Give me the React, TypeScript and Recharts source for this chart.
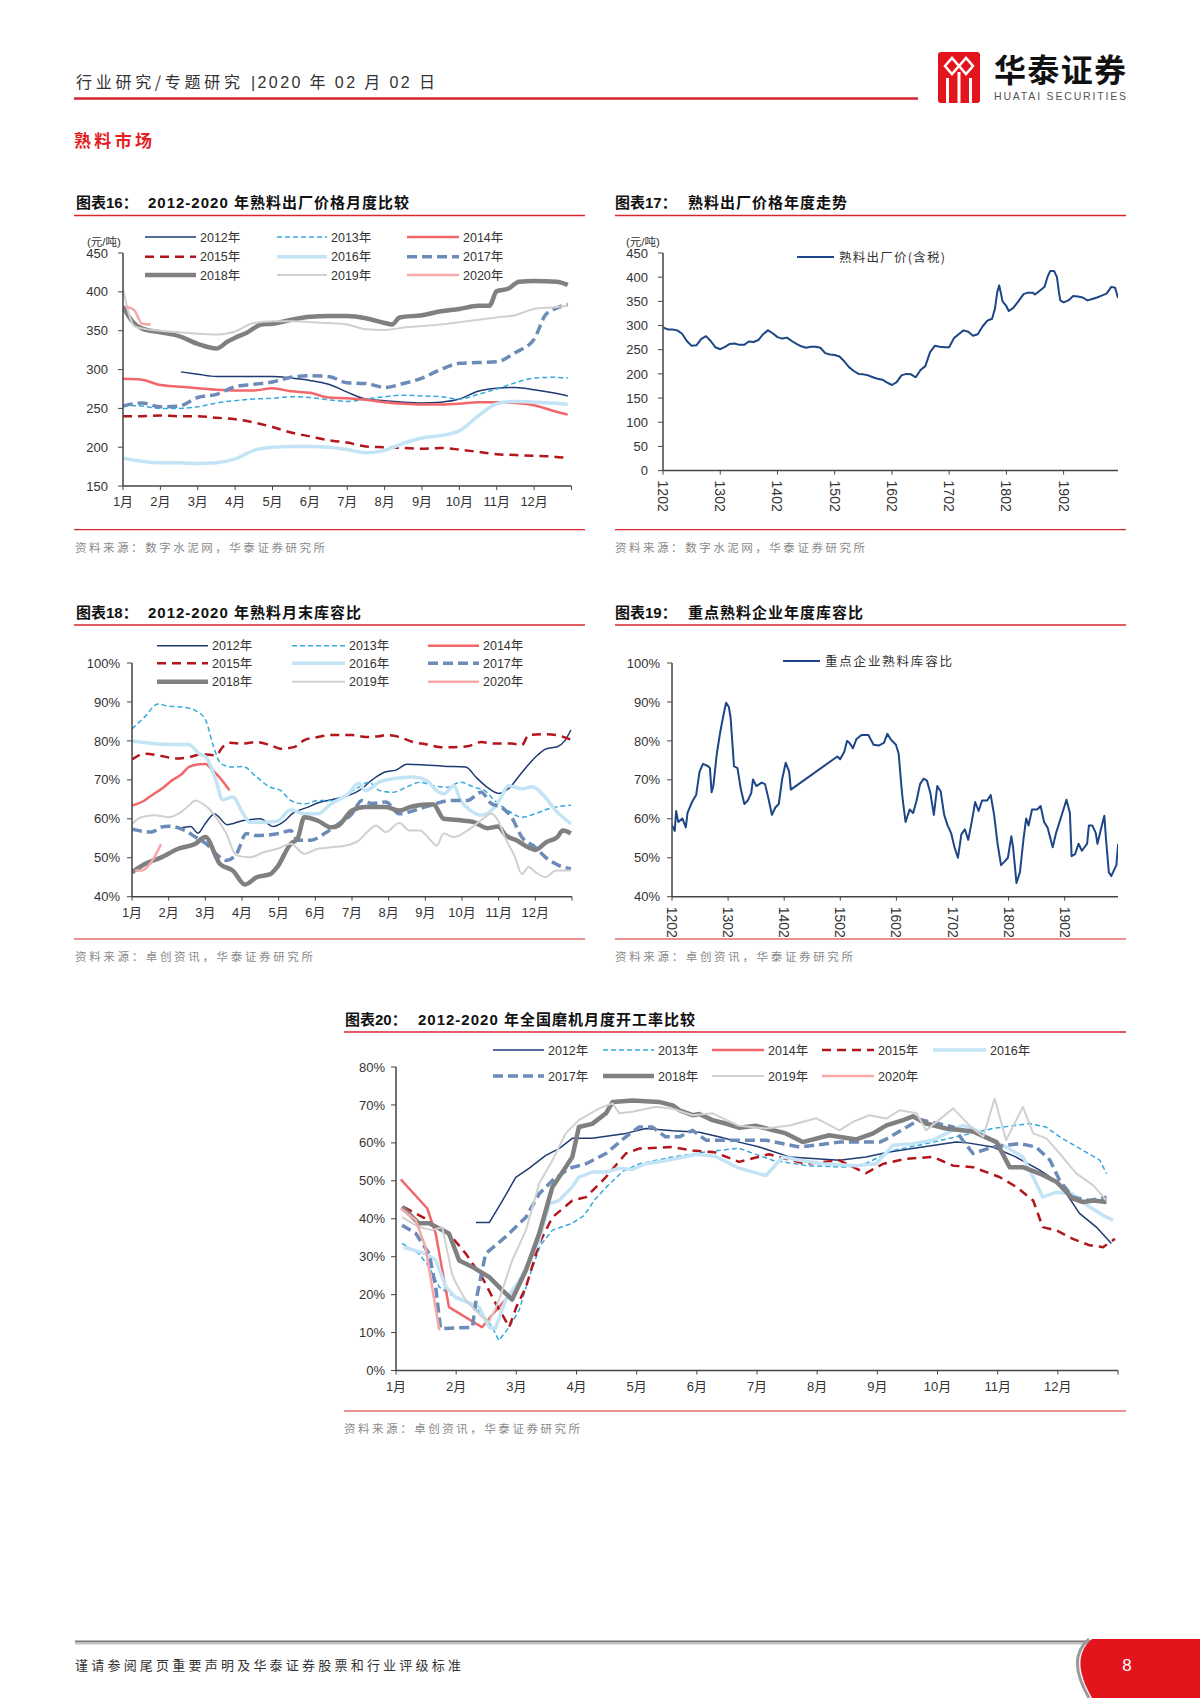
import React from 'react'
import { LineChart, Line, XAxis, YAxis } from 'recharts'

type Pt = [number, number]

const MONTHS = ['1月', '2月', '3月', '4月', '5月', '6月', '7月', '8月', '9月', '10月', '11月', '12月']
const YEAR_TICKS = ['1202', '1302', '1402', '1502', '1602', '1702', '1802', '1902']
const SERIES_NAMES = ['2012年', '2013年', '2014年', '2015年', '2016年', '2017年', '2018年', '2019年', '2020年']
const PRICE_TICKS = [150, 200, 250, 300, 350, 400, 450]
const TREND_PRICE_TICKS = [0, 50, 100, 150, 200, 250, 300, 350, 400, 450]
const INV_TICKS = [40, 50, 60, 70, 80, 90, 100]
const KILN_TICKS = [0, 10, 20, 30, 40, 50, 60, 70, 80]

// 图表16 熟料出厂价格 (元/吨), x = 月份位置 (0 = 1月初)
const price2012: Pt[] = [[1.55, 297], [2, 294], [2.5, 291], [3, 291], [3.5, 291], [4, 291], [4.5, 289], [5, 286], [5.5, 281], [6, 271], [6.5, 262], [7, 260], [7.5, 258], [8, 257], [8.5, 258], [9, 262], [9.5, 272], [10, 276], [10.5, 277], [11, 274], [11.5, 270], [11.9, 266]]
const price2013: Pt[] = [[0, 254], [0.5, 253], [1, 250], [1.5, 250], [2, 252], [2.5, 257], [3, 260], [3.5, 262], [4, 263], [4.5, 265], [5, 264], [5.5, 261], [6, 259], [6.5, 262], [7, 265], [7.5, 267], [8, 266], [8.5, 265], [9, 262], [9.5, 268], [10, 275], [10.5, 283], [11, 289], [11.5, 290], [11.9, 289]]
const price2014: Pt[] = [[0, 288], [0.5, 287], [1, 280], [1.5, 278], [2, 276], [2.5, 274], [3, 273], [3.5, 273], [4, 276], [4.5, 272], [5, 270], [5.5, 264], [6, 263], [6.5, 261], [7, 258], [7.5, 256], [8, 255], [8.5, 255], [9, 256], [9.5, 258], [10, 258], [10.5, 257], [11, 254], [11.5, 247], [11.9, 242]]
const price2015: Pt[] = [[0, 240], [0.5, 240], [1, 241], [1.5, 240], [2, 240], [2.5, 238], [3, 236], [3.5, 232], [4, 226], [4.5, 219], [5, 214], [5.5, 209], [6, 206], [6.5, 201], [7, 200], [7.5, 199], [8, 198], [8.5, 199], [9, 197], [9.5, 194], [10, 191], [10.5, 190], [11, 189], [11.5, 188], [11.9, 186]]
const price2016: Pt[] = [[0, 186], [0.5, 182], [1, 180], [1.5, 180], [2, 179], [2.5, 180], [3, 185], [3.5, 196], [4, 200], [4.5, 201], [5, 201], [5.5, 200], [6, 197], [6.5, 193], [7, 196], [7.5, 205], [8, 212], [8.5, 215], [9, 221], [9.5, 240], [10, 256], [10.5, 259], [11, 258], [11.5, 257], [11.9, 255]]
const price2017: Pt[] = [[0, 253], [0.5, 257], [1, 252], [1.5, 253], [2, 264], [2.5, 268], [3, 278], [3.5, 281], [4, 284], [4.5, 290], [5, 292], [5.5, 291], [6, 283], [6.5, 282], [7, 277], [7.5, 282], [8, 289], [8.5, 300], [9, 308], [9.5, 309], [10, 310], [10.5, 322], [11, 339], [11.3, 370], [11.6, 379], [11.9, 384]]
const price2018: Pt[] = [[0, 381], [0.25, 362], [0.5, 353], [1, 348], [1.5, 343], [2, 333], [2.5, 327], [2.8, 336], [3, 341], [3.3, 347], [3.7, 358], [4, 359], [4.5, 364], [5, 368], [5.5, 369], [6, 369], [6.5, 366], [7, 360], [7.2, 358], [7.4, 367], [8, 370], [8.5, 375], [9, 378], [9.5, 382], [9.8, 382], [10, 401], [10.3, 404], [10.6, 413], [11, 414], [11.6, 413], [11.9, 409]]
const price2019: Pt[] = [[0, 404], [0.3, 356], [0.5, 353], [1, 350], [1.5, 348], [2, 346], [2.5, 345], [3, 349], [3.5, 360], [4, 362], [4.5, 362], [5, 361], [5.5, 360], [6, 358], [6.5, 352], [7, 351], [7.5, 354], [8, 356], [8.5, 358], [9, 361], [9.5, 364], [10, 367], [10.5, 370], [11, 378], [11.5, 380], [11.9, 382]]
const price2020: Pt[] = [[0.06, 381], [0.29, 377], [0.51, 359], [0.74, 358]]

// 图表17 熟料出厂价(含税), x = 自2012年2月起的月数
const trendPrice: Pt[] = [[0, 296], [1, 292], [2, 292], [3, 290], [4, 283], [5, 268], [6, 258], [7, 259], [8, 272], [9, 278], [10, 268], [11, 255], [12, 251], [13, 256], [14, 262], [15, 263], [16, 260], [17, 260], [18, 267], [19, 266], [20, 270], [21, 282], [22, 290], [23, 284], [24, 276], [25, 273], [26, 275], [27, 268], [28, 262], [29, 257], [30, 254], [31, 256], [32, 256], [33, 254], [34, 243], [35, 240], [36, 239], [37, 236], [38, 226], [39, 214], [40, 206], [41, 200], [42, 199], [43, 197], [44, 193], [45, 190], [46, 188], [47, 182], [48, 177], [49, 183], [50, 197], [51, 200], [52, 199], [53, 193], [54, 208], [55, 216], [56, 245], [57, 258], [58, 256], [59, 255], [60, 255], [61, 274], [62, 282], [63, 290], [64, 287], [65, 279], [66, 282], [67, 298], [68, 310], [69, 314], [69.6, 335], [70.1, 370], [70.5, 383], [71.2, 350], [72, 340], [72.5, 330], [73.4, 336], [74.5, 350], [75.6, 365], [76.5, 368], [77.5, 368], [78, 364], [79, 372], [80, 380], [80.6, 400], [81.2, 413], [82, 413], [82.6, 400], [83, 370], [83.3, 352], [84, 348], [85, 352], [86, 361], [87, 360], [88, 358], [89, 352], [90, 355], [91, 358], [92, 362], [93, 366], [94, 380], [94.8, 378], [95.4, 357]]

// 图表18 熟料月末库容比 (%)
const inv2012: Pt[] = [[1.3, 57.5], [1.6, 58], [1.8, 56.3], [2, 58.8], [2.25, 61.2], [2.6, 58.5], [3, 59.5], [3.5, 60], [3.85, 58], [4.1, 59], [4.4, 61.5], [4.8, 63], [5.1, 64.2], [5.5, 65], [5.9, 66], [6.2, 67.3], [6.55, 70], [6.9, 72], [7.2, 72.5], [7.5, 74], [8, 73.8], [8.5, 73.5], [9.1, 73.3], [9.4, 70.5], [9.7, 68], [10, 66.5], [10.3, 68], [10.6, 71.5], [11, 75.8], [11.3, 78], [11.6, 78.5], [11.8, 80], [11.97, 82.8]]
const inv2013: Pt[] = [[0, 83.1], [0.34, 86.1], [0.71, 89.5], [0.99, 88.9], [1.36, 88.7], [1.73, 87.8], [2.01, 85.3], [2.2, 79.3], [2.43, 74.1], [2.75, 73.3], [3.03, 73.4], [3.4, 70.7], [3.77, 68.1], [4.05, 67.3], [4.33, 64.7], [4.7, 63.8], [5.07, 64.7], [5.44, 64.7], [5.81, 66], [6.18, 68.1], [6.46, 69.4], [6.74, 67.3], [7.11, 66.8], [7.48, 68.1], [7.85, 69.4], [8.22, 68.5], [8.59, 68.1], [8.96, 69.4], [9.33, 68.1], [9.61, 67.3], [9.89, 64.7], [10.26, 62.1], [10.63, 60.4], [11, 61.3], [11.37, 62.6], [11.97, 63.5]]
const inv2014: Pt[] = [[0, 63.4], [0.34, 64.7], [0.53, 66], [0.81, 67.7], [1.08, 69.8], [1.36, 71.5], [1.55, 73.3], [1.83, 74], [2.01, 74.1], [2.2, 72.4], [2.38, 70.7], [2.66, 67.3]]
const inv2015: Pt[] = [[0, 75.2], [0.34, 76.7], [0.81, 76.1], [1.18, 75.5], [1.55, 75.8], [1.92, 76.6], [2.29, 76.3], [2.47, 78.4], [2.66, 79.5], [3.03, 79.3], [3.4, 79.7], [3.77, 78.9], [4.05, 78], [4.42, 78.4], [4.7, 80.2], [5.07, 81], [5.44, 81.5], [6, 81.5], [6.37, 81], [6.74, 81.2], [6.92, 81.5], [7.29, 81], [7.67, 79.7], [8.04, 79.1], [8.41, 78.4], [8.78, 78.4], [9.15, 78.6], [9.52, 79.7], [9.89, 79.3], [10.35, 79.3], [10.63, 78.9], [10.82, 81.5], [11.19, 81.7], [11.56, 81.5], [11.97, 80.3]]
const inv2016: Pt[] = [[0, 80], [1, 79.1], [1.55, 79.1], [1.83, 76.7], [2.02, 75.8], [2.29, 69.8], [2.47, 64.9], [2.75, 65.6], [3.03, 61.3], [3.22, 59.1], [3.59, 59.1], [3.96, 59.4], [4.33, 62.3], [4.7, 61.3], [5.07, 61.3], [5.44, 63.9], [5.9, 66.4], [6.18, 69.1], [6.37, 67.2], [6.74, 69.4], [7.11, 70.3], [7.67, 70.7], [8.04, 69.8], [8.31, 67.2], [8.5, 66.4], [8.78, 68.5], [8.96, 64.7], [9.24, 62.1], [9.52, 60.9], [9.89, 63], [10.07, 65.6], [10.26, 68.5], [10.63, 67.7], [10.91, 68.2], [11.19, 66.4], [11.56, 62.1], [11.97, 58.7]]
const inv2017: Pt[] = [[0, 57.3], [0.53, 56.6], [0.81, 57.9], [1, 58.1], [1.45, 57], [1.73, 55.3], [2.02, 53.6], [2.29, 51], [2.57, 49.3], [2.85, 51], [3.12, 56.2], [3.4, 55.7], [4, 56.2], [4.33, 57], [4.51, 54.5], [4.88, 54.5], [5.25, 56.2], [5.63, 58.7], [6, 61.3], [6.27, 64.7], [6.55, 63.9], [6.92, 64.3], [7.29, 61.3], [7.85, 62.6], [8.22, 63.7], [8.68, 64.7], [9.15, 64.7], [9.52, 66.8], [9.8, 63.9], [10.07, 63], [10.35, 60.4], [10.63, 55.3], [11, 52.7], [11.28, 50.1], [11.65, 48], [11.97, 47.1]]
const inv2018: Pt[] = [[0, 46.3], [0.35, 48.4], [0.8, 50.1], [1.26, 52.3], [1.73, 53.6], [2, 55.3], [2.4, 48.4], [2.75, 46.7], [3.08, 43.1], [3.4, 45], [3.77, 45.8], [3.96, 47.6], [4.33, 53.6], [4.51, 54.8], [4.7, 60.4], [5.07, 59.5], [5.44, 57.8], [5.63, 58.3], [6, 62.1], [6.37, 63], [6.92, 63], [7.3, 62.1], [7.57, 63], [8.04, 63.7], [8.22, 63.7], [8.5, 60], [8.96, 59.6], [9.3, 59.2], [9.7, 57.6], [9.98, 58], [10.2, 55.7], [10.5, 54.4], [10.8, 52.7], [11, 52], [11.3, 54], [11.6, 55.3], [11.75, 57], [11.97, 56.3]]
const inv2019: Pt[] = [[0, 58.7], [0.25, 60.4], [0.62, 60.9], [1, 60.4], [1.27, 61.3], [1.55, 63.4], [1.73, 64.7], [1.92, 63.9], [2.1, 62.6], [2.29, 60.4], [2.57, 56.2], [2.85, 50.6], [3.22, 50.1], [3.59, 51.4], [3.96, 52.3], [4.33, 53.6], [4.7, 51], [5.07, 52.3], [5.44, 52.7], [5.81, 53.1], [6.18, 54.4], [6.46, 57], [6.65, 58.3], [6.92, 56.6], [7.29, 58.9], [7.57, 57], [7.85, 57], [8.13, 54.6], [8.31, 53.1], [8.5, 56.2], [8.78, 55.3], [9.15, 57], [9.52, 59.6], [9.8, 61.3], [9.98, 59.6], [10.17, 55.3], [10.45, 50.1], [10.63, 45.8], [10.82, 47.6], [11, 46.3], [11.28, 45], [11.56, 46.7], [11.97, 46.7]]
const inv2020: Pt[] = [[0.08, 46.7], [0.25, 46.7], [0.53, 48.9], [0.79, 53.5]]

// 图表19 重点企业熟料库容比 (%), x = 自2012年2月起的月数
const trendInventory: Pt[] = [[0, 58.3], [0.59, 56.9], [0.88, 62], [1.33, 59.2], [2.21, 60.1], [2.95, 57.8], [3.32, 61.5], [4.27, 64.3], [5.16, 66.1], [5.9, 72.1], [6.63, 74.1], [7.74, 73.5], [8.11, 73], [8.47, 66.8], [8.84, 68.4], [9.58, 76.7], [10.32, 82.3], [11.05, 86.9], [11.57, 89.8], [12.16, 88.7], [12.53, 86], [13.26, 73.5], [14, 73], [14.74, 67.5], [15.48, 63.8], [16.21, 64.7], [16.95, 66.6], [17.32, 70.1], [18.05, 68.4], [19.16, 69.3], [19.9, 68.9], [20.63, 65.2], [21.37, 61], [22.11, 62.9], [22.84, 63.8], [23.58, 70.3], [24.32, 74.4], [25.06, 72.1], [25.42, 67.5], [35.37, 76], [35.96, 75.3], [36.85, 77.2], [37.44, 80], [37.95, 79.5], [38.69, 78.1], [39.42, 80.4], [40.53, 81.5], [42, 81.5], [43.11, 79], [44.22, 78.8], [45.32, 79.5], [46.06, 81.8], [46.79, 80.4], [47.9, 79], [48.49, 76.7], [49, 69.3], [49.37, 64.7], [49.96, 59.2], [50.85, 62.4], [51.58, 61.5], [52.32, 64.7], [53.06, 68.9], [53.8, 70.3], [54.53, 69.8], [55.27, 66.6], [56.01, 61], [56.74, 68.4], [57.48, 67], [58.22, 61], [58.95, 58.3], [59.69, 56.4], [60.43, 52.7], [61.16, 50], [61.9, 56], [62.64, 57.3], [63.37, 54.6], [64.11, 59.2], [64.85, 64.3], [65.59, 62], [66.32, 64.7], [67.43, 64.7], [68.17, 66.1], [68.9, 61], [69.64, 53.6], [70.38, 48.1], [71.11, 49], [71.85, 50], [72.59, 55.5], [72.96, 52.7], [73.69, 43.5], [74.43, 46.3], [75.17, 54.6], [75.76, 60.1], [76.27, 58.3], [77.01, 62.4], [78.11, 62.4], [78.85, 63.3], [79.59, 59.2], [80.32, 57.8], [81.43, 52.7], [82.17, 56.4], [83.27, 60.6], [84.38, 64.9], [85.11, 61.5], [85.48, 50.4], [86.22, 50.9], [86.96, 53.6], [87.69, 51.8], [88.8, 53.6], [89.17, 58.3], [89.9, 58.3], [90.64, 56.4], [91.01, 53.6], [91.75, 57.3], [92.48, 60.8], [92.85, 54.6], [93.44, 46.3], [93.96, 45.3], [94.69, 47.2], [95.06, 48.1], [95.43, 53.6]]

// 图表20 全国磨机开工率 (%)
const kiln2012: Pt[] = [[1.33, 39], [1.55, 39], [1.77, 44.8], [1.99, 50.9], [2.21, 53.3], [2.49, 56.7], [2.71, 58.5], [2.93, 61.2], [3.26, 61.2], [3.82, 62.5], [4.15, 63.8], [4.6, 63.2], [5.04, 62.8], [5.4, 61.5], [5.7, 60.2], [6.04, 58.9], [6.54, 56.3], [7.37, 55.4], [7.81, 56.3], [8.2, 57.6], [8.75, 58.9], [9.31, 60.2], [9.5, 60], [9.92, 58.9], [10.3, 56.3], [10.7, 52.8], [11.03, 49.3], [11.36, 41.4], [11.64, 37.8], [11.89, 33.5]]
const kiln2013: Pt[] = [[0.1, 33.5], [0.38, 30.8], [0.55, 27.3], [0.72, 22], [0.88, 20.2], [1.16, 18.5], [1.43, 15], [1.6, 11.4], [1.71, 7.9], [1.88, 11.4], [2.05, 16], [2.2, 24], [2.4, 33], [2.6, 37], [2.93, 38.8], [3.13, 40.9], [3.3, 45], [3.5, 48.4], [3.77, 52.5], [4.05, 54.5], [4.6, 56.3], [5.15, 57.6], [5.7, 58.6], [6.26, 55.4], [6.82, 54], [7.5, 53.6], [7.8, 54.5], [8.26, 58], [8.81, 59.8], [9.31, 61.6], [9.92, 63.8], [10.53, 65.1], [10.8, 64.2], [11.03, 61.6], [11.42, 58], [11.7, 55.4], [11.81, 51.9]]
const kiln2014: Pt[] = [[0.08, 50.4], [0.52, 42.7], [0.66, 36.1], [0.88, 16.7], [1.43, 11.4], [1.66, 15.8], [2.05, 22.9], [2.38, 34.3], [2.6, 48.4]]
const kiln2015: Pt[] = [[0.13, 43.1], [0.49, 40], [0.66, 37.8], [0.88, 36.1], [1.16, 30.8], [1.43, 24.6], [1.66, 17.6], [1.82, 13.2], [1.88, 11.4], [2, 16.7], [2.16, 22], [2.38, 33.5], [2.6, 40.4], [2.93, 44.8], [3.16, 45.7], [3.49, 51], [3.82, 57.2], [4.04, 58.5], [4.6, 58.9], [4.93, 58], [5.3, 57.5], [5.7, 55], [6.2, 57], [6.8, 54.5], [7.37, 55.4], [7.81, 52], [8.1, 54.5], [8.48, 55.8], [8.92, 56.3], [9.26, 54], [9.59, 53.6], [10.03, 51], [10.31, 48.4], [10.59, 44.8], [10.75, 37.8], [10.98, 36.9], [11.25, 34.7], [11.53, 33], [11.75, 32.5], [11.95, 34.7]]
const kiln2016: Pt[] = [[0.13, 32.5], [0.49, 30.8], [0.66, 29.1], [0.83, 22], [0.99, 19.3], [1.38, 16.7], [1.55, 11.4], [1.65, 11], [1.82, 18.5], [2.05, 23.7], [2.38, 34.3], [2.55, 44], [2.71, 44.8], [2.93, 48.4], [3.04, 51], [3.26, 52.3], [3.49, 52.3], [3.71, 53.3], [3.93, 53], [4.15, 54.5], [4.37, 55], [4.7, 56], [5, 57], [5.3, 56.5], [5.7, 53.3], [6.15, 51.4], [6.43, 56.3], [6.71, 55.4], [7.09, 54.5], [7.65, 54], [7.98, 54.5], [8.26, 59.4], [8.59, 59.8], [8.92, 60.7], [9.2, 62.9], [9.42, 64.6], [9.59, 63.8], [9.92, 60.7], [10.14, 58.9], [10.42, 56.3], [10.59, 51], [10.75, 45.7], [10.98, 47], [11.25, 46.5], [11.53, 43.1], [11.75, 40.9], [11.92, 39.6]]
const kiln2017: Pt[] = [[0.1, 38.3], [0.33, 36.1], [0.55, 30.8], [0.66, 22], [0.74, 11], [1, 11.2], [1.27, 11.4], [1.33, 18.5], [1.49, 30.8], [1.82, 35.2], [2.16, 40.4], [2.38, 46.6], [2.6, 50.1], [2.88, 53.3], [3.16, 54.5], [3.49, 57.2], [3.82, 61.6], [4.04, 64.2], [4.26, 64.2], [4.48, 61.6], [4.71, 61.6], [4.93, 63.3], [5.15, 60.7], [5.7, 60.7], [6.15, 60.7], [6.71, 58.9], [7.37, 60.2], [8.04, 60.2], [8.15, 61], [8.59, 65.1], [8.75, 66], [9.26, 64.2], [9.42, 60.7], [9.59, 57.2], [9.92, 58.9], [10.37, 59.8], [10.64, 58.9], [10.87, 55.4], [11.03, 50.1], [11.25, 45.7], [11.53, 44.8], [11.81, 45.7]]
const kiln2018: Pt[] = [[0.1, 43.1], [0.38, 38.8], [0.55, 38.8], [0.72, 37.4], [0.88, 36.1], [1.05, 29], [1.27, 27.3], [1.55, 24.6], [1.77, 21.1], [1.93, 18.7], [2.16, 26.4], [2.38, 36.1], [2.6, 48.4], [2.82, 53.6], [2.93, 56.3], [3.04, 64.2], [3.26, 65], [3.49, 67.8], [3.6, 70.8], [3.93, 71.2], [4.37, 70.8], [4.6, 69.9], [4.71, 68.6], [4.93, 67.3], [5.04, 67.6], [5.26, 66], [5.48, 65.1], [5.7, 64], [5.98, 64.5], [6.48, 62.5], [6.76, 60.2], [7.2, 62], [7.65, 60.9], [7.93, 62.5], [8.15, 64.6], [8.43, 66], [8.59, 67], [8.81, 65.1], [9.14, 63.8], [9.59, 63], [9.98, 60.2], [10.2, 53.6], [10.42, 53.6], [10.7, 51.9], [10.98, 49.7], [11.25, 45.3], [11.42, 44.4], [11.59, 44.8], [11.81, 44.4]]
const kiln2019: Pt[] = [[0.1, 40.4], [0.38, 37.8], [0.6, 37], [0.77, 37.8], [0.93, 25.5], [1, 22.9], [1.16, 18.5], [1.43, 14.1], [1.55, 12.8], [1.71, 18.5], [1.93, 29], [2.16, 37], [2.38, 49.3], [2.6, 55.4], [2.82, 62.5], [3.04, 66], [3.38, 69.1], [3.6, 70.4], [3.71, 67.8], [3.93, 68.2], [4.32, 69.5], [4.6, 69], [4.93, 67.3], [5.26, 67.8], [5.7, 64.5], [6.15, 63.8], [6.54, 64.6], [6.98, 66.5], [7.37, 63.3], [7.59, 65.5], [7.87, 67.3], [8.15, 66.4], [8.37, 68.6], [8.65, 67.8], [8.81, 63.3], [9.26, 69.1], [9.53, 64.6], [9.76, 61.6], [9.95, 71.7], [10.14, 60.7], [10.42, 69.5], [10.59, 62.5], [10.81, 61.2], [11.03, 57.2], [11.31, 51.9], [11.59, 48.8], [11.81, 44.8]]
const kiln2020: Pt[] = [[0.08, 42.7], [0.33, 39.6], [0.49, 32.5], [0.6, 22], [0.72, 10.6]]

const FONT = "'Liberation Sans', Arial, 'Noto Sans CJK SC', sans-serif"
const CJK = "'Noto Sans CJK SC', 'Liberation Sans', sans-serif"
const RED = '#d7262e'

interface LineStyle { color: string; width: number; dash?: string }

// 2012..2020 的线型
const STYLES: LineStyle[] = [
  { color: '#1f3b73', width: 1.5 },
  { color: '#35a8dd', width: 1.5, dash: '5 3' },
  { color: '#f2676a', width: 2.5 },
  { color: '#b3151c', width: 2.5, dash: '9 6' },
  { color: '#c2e4f5', width: 3.5 },
  { color: '#6d8bb8', width: 3.5, dash: '10 5' },
  { color: '#808080', width: 4.5 },
  { color: '#d0d0d0', width: 2 },
  { color: '#f6a7a7', width: 2.5 },
]
const TREND_STYLE: LineStyle = { color: '#1d4686', width: 2 }

const rows = (pts: Pt[]) => pts.map(([m, v]) => ({ m, v }))
const monthTicks = [...MONTHS.map((_, i) => i), 12]
const monthLabel = (v: number) => MONTHS[v] ?? ''
const yearTickPos = YEAR_TICKS.map((_, i) => i * 12)
const yearLabel = (v: number) => YEAR_TICKS[v / 12] ?? ''

interface Box { l: number; t: number; r: number; b: number }

const RotTick = (p: any) => (
  <text x={p.x} y={p.y} transform={`rotate(90 ${p.x} ${p.y})`} textAnchor="start" dominantBaseline="central"
    fontSize={14} fill="#333" fontFamily={FONT}>{yearLabel(p.payload.value)}</text>
)

function Plot({ box, xDomain, xTicks, yDomain, yTicks, yFmt, yGap, rotated, curve, series }: {
  box: Box; xDomain: [number, number]; xTicks: number[]; yDomain: [number, number]; yTicks: number[]
  yFmt: (v: number) => string; yGap: number; rotated?: boolean; curve: 'linear' | 'monotone'
  series: { pts: Pt[]; style: LineStyle }[]
}) {
  const YW = 60, MT = 6, MR = 8
  const XH = rotated ? 50 : 30
  const w = box.r - box.l + YW + MR
  const h = box.b - box.t + MT + XH
  return (
    <div style={{ position: 'absolute', left: box.l - YW, top: box.t - MT }}>
      <LineChart width={w} height={h} margin={{ top: MT, right: MR, left: 0, bottom: 0 }}>
        <XAxis type="number" dataKey="m" domain={xDomain} ticks={xTicks} interval={0} allowDataOverflow
          height={XH} tickSize={4} tickMargin={rotated ? 6 : 7}
          tickFormatter={monthLabel}
          tick={rotated ? RotTick : { fontSize: 13, fill: '#333', fontFamily: FONT }}
          axisLine={{ stroke: '#444', strokeWidth: 1.5 }} tickLine={{ stroke: '#444' }} />
        <YAxis type="number" domain={yDomain} ticks={yTicks} interval={0} allowDataOverflow width={YW}
          tickSize={5} tickMargin={yGap} tickFormatter={yFmt}
          tick={{ fontSize: 13, fill: '#333', fontFamily: FONT }}
          axisLine={{ stroke: '#444', strokeWidth: 1.5 }} tickLine={{ stroke: '#444' }} />
        {series.map((s, i) => (
          <Line key={i} data={rows(s.pts)} dataKey="v" type={curve} stroke={s.style.color}
            strokeWidth={s.style.width} strokeDasharray={s.style.dash} dot={false} activeDot={false}
            isAnimationActive={false} strokeLinejoin="round" />
        ))}
      </LineChart>
    </div>
  )
}

function Legend({ cols, texts, rowsY, perRow }: { cols: number[]; texts: number[]; rowsY: number[]; perRow: number }) {
  return (
    <g>
      {SERIES_NAMES.map((name, i) => {
        const c = i % perRow
        const y = rowsY[Math.floor(i / perRow)]
        const s = STYLES[i]
        return (
          <g key={name}>
            <line x1={cols[c]} x2={texts[c] - 4} y1={y} y2={y} stroke={s.color} strokeWidth={s.width} strokeDasharray={s.dash} />
            <text x={texts[c]} y={y + 4.5} fontSize={12.5} fill="#333" fontFamily={FONT}>{name}</text>
          </g>
        )
      })}
    </g>
  )
}

function Title({ x, x2, y, num, text }: { x: number; x2: number; y: number; num: string; text: string }) {
  return (
    <g fontFamily={FONT} fontWeight={700} fontSize={15} fill="#111">
      <text x={x} y={y}>{`图表${num}：`}</text>
      <text x={x2} y={y} letterSpacing={1}>{text}</text>
    </g>
  )
}

function Source({ x, y, text, w }: { x: number; y: number; text: string; w: number }) {
  return <text x={x} y={y} fontSize={11.5} fill="#8a8a8a" fontFamily={CJK} textLength={w} lengthAdjust="spacing">{text}</text>
}

const yearSeries = (list: Pt[][]) => list.map((pts, i) => ({ pts, style: STYLES[i] }))

export default function App() {
  const pct = (v: number) => `${v}%`
  const num = (v: number) => `${v}`
  return (
    <div style={{ position: 'absolute', left: 0, top: 0, width: 1200, height: 1698, background: '#fff', overflow: 'hidden' }}>
      <svg width={1200} height={1698} style={{ position: 'absolute', left: 0, top: 0 }}>
        {/* header */}
        <text x={76} y={88} fontSize={16} fill="#333" fontFamily={CJK} textLength={164} lengthAdjust="spacing">行业研究/专题研究</text>
        <text x={251} y={88} fontSize={16} fill="#333" fontFamily={FONT} textLength={184} lengthAdjust="spacing">|2020 年 02 月 02 日</text>
        <line x1={74} x2={918} y1={98.5} y2={98.5} stroke={RED} strokeWidth={2.5} />
        <rect x={938} y={52} width={42} height={51} rx={3} fill="#e3141b" />
        <path d="M945 66 L952 58 L959 66 L966 58 L973 66 L966 74 L959 66 L952 74 Z" fill="none" stroke="#fff" strokeWidth={2.5} />
        <rect x={946} y={78} width={3} height={25} fill="#fff" />
        <rect x={957.5} y={72} width={3} height={31} fill="#fff" />
        <rect x={969} y={78} width={3} height={25} fill="#fff" />
        <text x={994} y={82} fontSize={32} fontWeight={700} fill="#111" fontFamily={CJK} textLength={132} lengthAdjust="spacing">华泰证券</text>
        <text x={994} y={100} fontSize={10.5} fill="#555" fontFamily={FONT} textLength={132} lengthAdjust="spacing">HUATAI SECURITIES</text>
        <text x={74} y={147} fontSize={17} fontWeight={700} fill="#e31e24" fontFamily={CJK} textLength={78} lengthAdjust="spacing">熟料市场</text>

        {/* 图表16 / 17 */}
        <Title x={76} x2={148} y={208} num="16" text="2012-2020 年熟料出厂价格月度比较" />
        <line x1={74} x2={585} y1={215.5} y2={215.5} stroke={RED} strokeWidth={1.5} />
        <text x={87} y={246} fontSize={11.5} fill="#333" fontFamily={FONT}>(元/吨)</text>
        <Legend cols={[145, 277, 407]} texts={[200, 331, 463]} rowsY={[237, 256.7, 275]} perRow={3} />
        <line x1={74} x2={585} y1={529.6} y2={529.6} stroke={RED} strokeWidth={1.2} />
        <Source x={75} y={552} text="资料来源：数字水泥网，华泰证券研究所" w={250} />

        <Title x={615} x2={688} y={208} num="17" text="熟料出厂价格年度走势" />
        <line x1={615} x2={1126} y1={215.5} y2={215.5} stroke={RED} strokeWidth={1.5} />
        <text x={626} y={246} fontSize={11.5} fill="#333" fontFamily={FONT}>(元/吨)</text>
        <line x1={797} x2={834} y1={257} y2={257} stroke={TREND_STYLE.color} strokeWidth={2} />
        <text x={839} y={261.5} fontSize={12.5} fill="#333" fontFamily={CJK} textLength={106} lengthAdjust="spacing">熟料出厂价(含税)</text>
        <line x1={615} x2={1126} y1={529.6} y2={529.6} stroke={RED} strokeWidth={1.2} />
        <Source x={615} y={552} text="资料来源：数字水泥网，华泰证券研究所" w={250} />

        {/* 图表18 / 19 */}
        <Title x={76} x2={148} y={617.5} num="18" text="2012-2020 年熟料月末库容比" />
        <line x1={74} x2={585} y1={625} y2={625} stroke={RED} strokeWidth={1.5} />
        <Legend cols={[157, 292, 428]} texts={[212, 349, 483]} rowsY={[645.7, 663.3, 681.7]} perRow={3} />
        <line x1={74} x2={585} y1={939} y2={939} stroke={RED} strokeWidth={1.2} />
        <Source x={75} y={961} text="资料来源：卓创资讯，华泰证券研究所" w={238} />

        <Title x={615} x2={688} y={617.5} num="19" text="重点熟料企业年度库容比" />
        <line x1={615} x2={1126} y1={625} y2={625} stroke={RED} strokeWidth={1.5} />
        <line x1={783} x2={820} y1={661} y2={661} stroke={TREND_STYLE.color} strokeWidth={2} />
        <text x={825} y={665.5} fontSize={12.5} fill="#333" fontFamily={CJK} textLength={127} lengthAdjust="spacing">重点企业熟料库容比</text>
        <line x1={615} x2={1126} y1={939} y2={939} stroke={RED} strokeWidth={1.2} />
        <Source x={615} y={961} text="资料来源：卓创资讯，华泰证券研究所" w={238} />

        {/* 图表20 */}
        <Title x={345} x2={418} y={1024.5} num="20" text="2012-2020 年全国磨机月度开工率比较" />
        <line x1={344} x2={1126} y1={1032} y2={1032} stroke={RED} strokeWidth={1.5} />
        <Legend cols={[493, 603, 712, 822, 933]} texts={[548, 658, 768, 878, 990]} rowsY={[1050, 1076]} perRow={5} />
        <line x1={344} x2={1126} y1={1411} y2={1411} stroke={RED} strokeWidth={1.2} />
        <Source x={344} y={1433} text="资料来源：卓创资讯，华泰证券研究所" w={236} />

        {/* footer */}
        <line x1={75} x2={1092} y1={1641.5} y2={1641.5} stroke="#777" strokeWidth={2} />
        <line x1={75} x2={1092} y1={1643.5} y2={1643.5} stroke="#c4c4c4" strokeWidth={2} />
        <path d="M1089 1639 C1074 1652 1073 1670 1089 1698" fill="none" stroke="#9a9a9a" strokeWidth={3} />
        <path d="M1092 1639 C1077 1652 1076 1670 1092 1698 L1200 1698 L1200 1639 Z" fill="#e3141b" />
        <text x={1127} y={1671} fontSize={17} fill="#fff" textAnchor="middle" fontFamily={FONT}>8</text>
        <text x={75} y={1670} fontSize={13} fill="#333" fontFamily={CJK} textLength={386} lengthAdjust="spacing">谨请参阅尾页重要声明及华泰证券股票和行业评级标准</text>
      </svg>

      <Plot box={{ l: 122.5, t: 253.4, r: 571, b: 486.5 }} xDomain={[0, 12]} xTicks={monthTicks}
        yDomain={[150, 450]} yTicks={PRICE_TICKS} yFmt={num} yGap={10} curve="monotone"
        series={yearSeries([price2012, price2013, price2014, price2015, price2016, price2017, price2018, price2019, price2020])} />
      <Plot box={{ l: 663, t: 253.4, r: 1118, b: 471 }} xDomain={[0, 95.4]} xTicks={yearTickPos}
        yDomain={[0, 450]} yTicks={TREND_PRICE_TICKS} yFmt={num} yGap={10} rotated curve="linear"
        series={[{ pts: trendPrice, style: TREND_STYLE }]} />
      <Plot box={{ l: 132, t: 662.8, r: 572, b: 896.5 }} xDomain={[0, 12]} xTicks={monthTicks}
        yDomain={[40, 100]} yTicks={INV_TICKS} yFmt={pct} yGap={7} curve="monotone"
        series={yearSeries([inv2012, inv2013, inv2014, inv2015, inv2016, inv2017, inv2018, inv2019, inv2020])} />
      <Plot box={{ l: 672, t: 662.8, r: 1118, b: 896.5 }} xDomain={[0, 95.4]} xTicks={yearTickPos}
        yDomain={[40, 100]} yTicks={INV_TICKS} yFmt={pct} yGap={7} rotated curve="linear"
        series={[{ pts: trendInventory, style: TREND_STYLE }]} />
      <Plot box={{ l: 396, t: 1067, r: 1118, b: 1370.5 }} xDomain={[0, 12]} xTicks={monthTicks}
        yDomain={[0, 80]} yTicks={KILN_TICKS} yFmt={pct} yGap={6} curve="linear"
        series={yearSeries([kiln2012, kiln2013, kiln2014, kiln2015, kiln2016, kiln2017, kiln2018, kiln2019, kiln2020])} />
    </div>
  )
}
